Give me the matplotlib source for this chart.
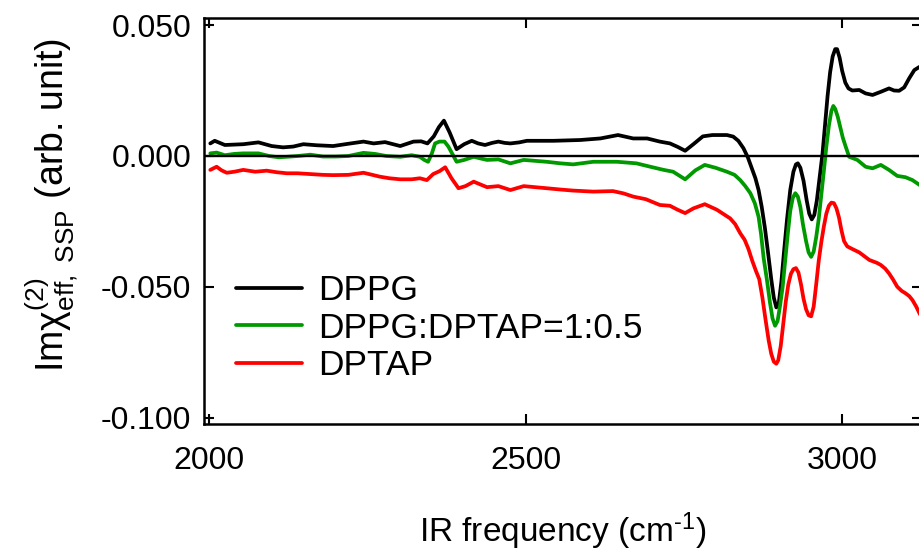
import numpy as np
import matplotlib
matplotlib.use("Agg")
import matplotlib.pyplot as plt

plt.rcParams['font.family'] = ['Liberation Sans', 'DejaVu Sans']
plt.rcParams['mathtext.fontset'] = 'custom'
plt.rcParams['mathtext.rm'] = 'Liberation Sans'
plt.rcParams['mathtext.it'] = 'Liberation Sans:italic'
plt.rcParams['axes.unicode_minus'] = False

series_labels = ["DPPG", "DPPG:DPTAP=1:0.5", "DPTAP"]
series_colors = ["#000000", "#009900", "#ff0000"]

dppg_x = [2002, 2009, 2025, 2054, 2078, 2099, 2117, 2133, 2149, 2170, 2196, 2218, 2244, 2260,
          2278, 2302, 2323, 2335, 2345, 2355, 2363, 2371, 2380, 2391, 2403, 2415, 2425, 2436,
          2447, 2457, 2467, 2476, 2490, 2502, 2544, 2586, 2618, 2646, 2670, 2692, 2712, 2728,
          2740, 2752, 2765, 2780, 2795, 2818, 2828, 2836, 2844, 2851, 2857, 2863, 2868, 2873,
          2878, 2883, 2888, 2892, 2896, 2900, 2904, 2908, 2913, 2918, 2923, 2927, 2930, 2934,
          2939, 2944, 2948, 2952, 2956, 2960, 2964, 2969, 2973, 2977, 2981, 2985, 2989, 2992,
          2996, 3000, 3005, 3010, 3016, 3027, 3037, 3048, 3061, 3074, 3082, 3090, 3098, 3106,
          3114, 3122, 3126]
dppg_y = [0.0048, 0.0058, 0.0042, 0.0045, 0.0052, 0.0038, 0.0033, 0.0036, 0.0045, 0.0041,
          0.0038, 0.0046, 0.0055, 0.0048, 0.0053, 0.0038, 0.0055, 0.0056, 0.0048, 0.0075,
          0.0110, 0.0135, 0.0090, 0.0026, 0.0045, 0.0058, 0.0048, 0.0042, 0.0050, 0.0055,
          0.0050, 0.0048, 0.0052, 0.0058, 0.0058, 0.0061, 0.0067, 0.0080, 0.0067, 0.0067,
          0.0055, 0.0048, 0.0035, 0.0020, 0.0045, 0.0075, 0.0080, 0.0080, 0.0074, 0.0058,
          0.0030, -0.0005, -0.0045, -0.0085, -0.0130, -0.0195, -0.0275, -0.0370, -0.0470,
          -0.0540, -0.0578, -0.0560, -0.0480, -0.0370, -0.0240, -0.0130, -0.0060, -0.0032,
          -0.0028, -0.0045, -0.0095, -0.0170, -0.0220, -0.0242, -0.0225, -0.0170, -0.0090,
          0.0010, 0.0120, 0.0230, 0.0320, 0.0380, 0.0408, 0.0408, 0.0375, 0.0325, 0.0280,
          0.0258, 0.0250, 0.0252, 0.0239, 0.0233, 0.0245, 0.0258, 0.0250, 0.0249, 0.0262,
          0.0297, 0.0328, 0.0340, 0.0342]

mix_x = [2002, 2012, 2025, 2040, 2054, 2078, 2095, 2110, 2123, 2140, 2160, 2180, 2200, 2220,
         2244, 2262, 2280, 2302, 2320, 2333, 2340, 2346, 2352, 2357, 2364, 2372, 2378, 2385,
         2391, 2403, 2418, 2430, 2439, 2457, 2476, 2497, 2533, 2555, 2575, 2607, 2644, 2675,
         2697, 2718, 2733, 2752, 2768, 2783, 2800, 2818, 2830, 2839, 2847, 2855, 2862, 2868,
         2872, 2876, 2881, 2886, 2890, 2894, 2898, 2902, 2906, 2910, 2914, 2918, 2922, 2926,
         2930, 2934, 2938, 2943, 2947, 2951, 2955, 2959, 2963, 2967, 2971, 2975, 2979, 2983,
         2986, 2989, 2993, 2997, 3001, 3005, 3011, 3024, 3037, 3048, 3061, 3074, 3087, 3100,
         3111, 3122, 3126]
mix_y = [0.0010, 0.0013, 0.0003, 0.0008, 0.0010, 0.0010, 0.0000, -0.0005, -0.0003, 0.0000,
         0.0005, -0.0002, -0.0002, 0.0000, 0.0012, 0.0008, 0.0000, -0.0003, 0.0003, -0.0003,
         -0.0015, -0.0022, 0.0010, 0.0048, 0.0055, 0.0055, 0.0036, 0.0005, -0.0022, -0.0015,
         -0.0003, -0.0010, -0.0015, -0.0013, -0.0028, -0.0015, -0.0022, -0.0028, -0.0032,
         -0.0022, -0.0022, -0.0028, -0.0041, -0.0053, -0.0060, -0.0089, -0.0055, -0.0034,
         -0.0045, -0.0060, -0.0072, -0.0092, -0.0115, -0.0142, -0.0180, -0.0232, -0.0300,
         -0.0390, -0.0470, -0.0560, -0.0620, -0.0648, -0.0630, -0.0570, -0.0500, -0.0400,
         -0.0300, -0.0210, -0.0160, -0.0142, -0.0155, -0.0195, -0.0260, -0.0325, -0.0368,
         -0.0385, -0.0365, -0.0310, -0.0240, -0.0150, -0.0060, 0.0035, 0.0115, 0.0172,
         0.0191, 0.0180, 0.0150, 0.0110, 0.0070, 0.0040, -0.0003, -0.0015, -0.0041, -0.0047,
         -0.0034, -0.0053, -0.0076, -0.0081, -0.0092, -0.0110, -0.0115]

dptap_x = [2002, 2012, 2020, 2028, 2040, 2054, 2073, 2091, 2107, 2123, 2140, 2160, 2180, 2196,
           2220, 2244, 2258, 2270, 2285, 2302, 2320, 2333, 2344, 2354, 2364, 2373, 2383, 2394,
           2405, 2418, 2430, 2439, 2457, 2476, 2497, 2533, 2555, 2575, 2607, 2638, 2655, 2670,
           2690, 2712, 2728, 2740, 2752, 2765, 2783, 2802, 2823, 2831, 2839, 2846, 2852, 2858,
           2864, 2869, 2874, 2879, 2884, 2888, 2892, 2896, 2899, 2903, 2907, 2911, 2915, 2919,
           2923, 2927, 2931, 2935, 2939, 2943, 2947, 2951, 2955, 2959, 2963, 2967, 2971, 2975,
           2979, 2983, 2987, 2991, 2995, 2999, 3003, 3008, 3016, 3027, 3043, 3055, 3061, 3068,
           3074, 3080, 3087, 3094, 3100, 3106, 3111, 3117, 3122, 3126]
dptap_y = [-0.0053, -0.0041, -0.0055, -0.0064, -0.0060, -0.0053, -0.0060, -0.0056, -0.0062,
           -0.0066, -0.0066, -0.0069, -0.0072, -0.0073, -0.0072, -0.0064, -0.0072, -0.0079,
           -0.0085, -0.0089, -0.0089, -0.0085, -0.0092, -0.0069, -0.0058, -0.0043, -0.0085,
           -0.0123, -0.0115, -0.0098, -0.0110, -0.0119, -0.0115, -0.0130, -0.0115, -0.0123,
           -0.0128, -0.0132, -0.0136, -0.0134, -0.0143, -0.0155, -0.0165, -0.0187, -0.0190,
           -0.0205, -0.0218, -0.0200, -0.0184, -0.0205, -0.0238, -0.0260, -0.0295, -0.0320,
           -0.0355, -0.0400, -0.0440, -0.0470, -0.0540, -0.0625, -0.0705, -0.0755, -0.0785,
           -0.0793, -0.0780, -0.0725, -0.0640, -0.0555, -0.0490, -0.0450, -0.0432, -0.0428,
           -0.0445, -0.0490, -0.0545, -0.0585, -0.0608, -0.0612, -0.0575, -0.0490, -0.0400,
           -0.0330, -0.0270, -0.0220, -0.0190, -0.0178, -0.0180, -0.0200, -0.0235, -0.0285,
           -0.0325, -0.0345, -0.0355, -0.0368, -0.0397, -0.0408, -0.0416, -0.0430, -0.0448,
           -0.0470, -0.0499, -0.0515, -0.0524, -0.0535, -0.0550, -0.0575, -0.0600, -0.0620]

x_ticks = [2000, 2500, 3000]
y_ticks = [-0.100, -0.050, 0.000, 0.050]

fig = plt.figure(figsize=(9.2, 5.54), dpi=100)
ax = fig.add_axes([0.2217, 0.2347, 0.7804, 0.7329])

for xs, ys, lab, col in zip([dppg_x, mix_x, dptap_x], [dppg_y, mix_y, dptap_y],
                            series_labels, series_colors):
    ax.plot(xs, ys, color=col, lw=2.7, label=lab, solid_joinstyle='round',
            solid_capstyle='round', zorder=2)

ax.axhline(0, color='black', lw=1.7, zorder=3)

ax.set_xlim(1992, 3126)
ax.set_ylim(-0.1023, 0.0527)
ax.set_xticks(x_ticks)
ax.set_yticks(y_ticks)
ax.set_yticklabels(['%.3f' % v for v in y_ticks])
ax.set_xticklabels([str(v) for v in x_ticks])

for s in ax.spines.values():
    s.set_linewidth(1.8)
ax.tick_params(axis='both', which='major', direction='in', length=7, width=1.5,
               labelsize=23, top=True, right=True)
ax.tick_params(axis='y', pad=9)
ax.tick_params(axis='x', pad=16)

ax.set_xlabel('IR frequency (cm$^{\\text{-1}}$)', fontsize=24)
ax.xaxis.set_label_coords(0.5, -0.212)
ax.set_ylabel('Im\u03c7$^{(2)}_{\\mathrm{eff,\\ SSP}}$ (arb. unit)', fontsize=27)
ax.yaxis.set_label_coords(-0.173, 0.54)

leg = ax.legend(loc='center left', bbox_to_anchor=(0.0446, 0.236), frameon=False,
                fontsize=25.5, handlelength=1.86, handletextpad=0.45, labelspacing=0.12,
                borderpad=0, borderaxespad=0)

fig.savefig('out.png', dpi=100)
